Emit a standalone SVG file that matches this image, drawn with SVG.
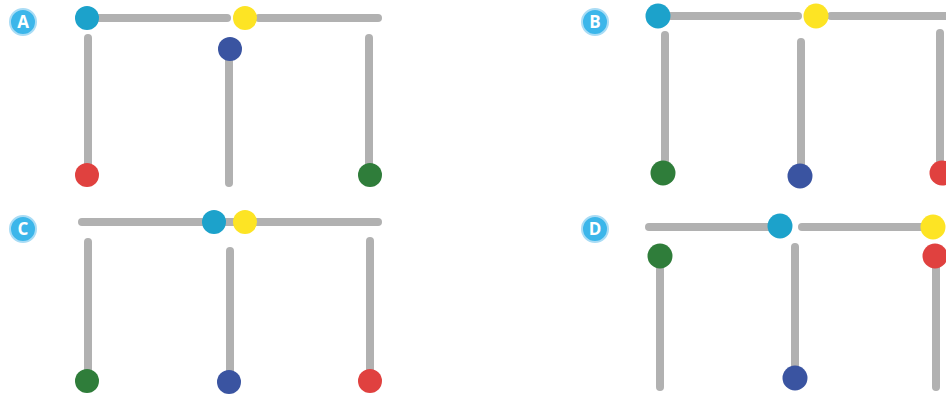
<svg xmlns="http://www.w3.org/2000/svg" width="946" height="399" viewBox="0 0 946 399">
<style>
.bar{stroke:#b1b1b1;stroke-width:8;stroke-linecap:round;fill:none}
.lbl circle{fill:#3cb6ea;stroke:#a9dcf5;stroke-width:2}
.lbl text{font-family:"Open Sans","Liberation Sans",sans-serif;font-weight:bold;font-size:17px;fill:#fff;text-anchor:middle}
.cy{fill:#1ca2cb}.ye{fill:#fde424}.bl{fill:#3a54a1}.rd{fill:#e0413f}.gr{fill:#2f7d3a}
</style>
<rect width="946" height="399" fill="#fff"/>
<g id="labels">
<g id="label-A" class="lbl"><circle cx="23" cy="22" r="13"/><text x="23" y="28">A</text></g>
<g id="label-B" class="lbl"><circle cx="595" cy="22" r="13"/><text x="595" y="28">B</text></g>
<g id="label-C" class="lbl"><circle cx="23" cy="229" r="13"/><text x="23" y="235">C</text></g>
<g id="label-D" class="lbl"><circle cx="595" cy="229" r="13"/><text x="595" y="235">D</text></g>
</g>
<g id="connectors">
<!-- A -->
<line class="bar" x1="87" y1="18" x2="227" y2="18"/>
<line class="bar" x1="259" y1="18" x2="378" y2="18"/>
<line class="bar" x1="88" y1="38" x2="88" y2="175"/>
<line class="bar" x1="229" y1="50" x2="229" y2="183"/>
<line class="bar" x1="369" y1="38" x2="369" y2="175"/>
<!-- B -->
<line class="bar" x1="658" y1="16" x2="798" y2="16"/>
<line class="bar" x1="831" y1="16" x2="950" y2="16"/>
<line class="bar" x1="665" y1="35" x2="665" y2="172"/>
<line class="bar" x1="801" y1="42" x2="801" y2="175"/>
<line class="bar" x1="940" y1="33" x2="940" y2="172"/>
<!-- C -->
<line class="bar" x1="82" y1="222" x2="378" y2="222"/>
<line class="bar" x1="88" y1="242" x2="88" y2="380"/>
<line class="bar" x1="230" y1="251" x2="230" y2="382"/>
<line class="bar" x1="370" y1="241" x2="370" y2="380"/>
<!-- D -->
<line class="bar" x1="649" y1="227" x2="780" y2="227"/>
<line class="bar" x1="802" y1="227" x2="933" y2="227"/>
<line class="bar" x1="660" y1="256" x2="660" y2="387"/>
<line class="bar" x1="795" y1="247" x2="795" y2="378"/>
<line class="bar" x1="936" y1="256" x2="936" y2="387"/>
</g>
<g id="panel-A">
<circle id="A-cyan" class="cy" cx="87" cy="18" r="12"/>
<circle id="A-yellow" class="ye" cx="245" cy="18" r="12"/>
<circle id="A-blue" class="bl" cx="230" cy="49" r="12"/>
<circle id="A-red" class="rd" cx="87" cy="175" r="12"/>
<circle id="A-green" class="gr" cx="370" cy="175" r="12"/>
</g>
<g id="panel-B">
<circle id="B-cyan" class="cy" cx="658" cy="16" r="12.5"/>
<circle id="B-yellow" class="ye" cx="816" cy="16" r="12.5"/>
<circle id="B-green" class="gr" cx="663" cy="173" r="12.5"/>
<circle id="B-blue" class="bl" cx="800" cy="176" r="12.5"/>
<circle id="B-red" class="rd" cx="942" cy="173" r="12.5"/>
</g>
<g id="panel-C">
<circle id="C-cyan" class="cy" cx="214" cy="222" r="12"/>
<circle id="C-yellow" class="ye" cx="245" cy="222" r="12"/>
<circle id="C-green" class="gr" cx="87" cy="381" r="12"/>
<circle id="C-blue" class="bl" cx="229" cy="382" r="12"/>
<circle id="C-red" class="rd" cx="370" cy="381" r="12"/>
</g>
<g id="panel-D">
<circle id="D-cyan" class="cy" cx="780" cy="226" r="12.5"/>
<circle id="D-yellow" class="ye" cx="933" cy="227" r="12.5"/>
<circle id="D-green" class="gr" cx="660" cy="256" r="12.5"/>
<circle id="D-red" class="rd" cx="935" cy="256" r="12.5"/>
<circle id="D-blue" class="bl" cx="795" cy="378" r="12.5"/>
</g>
</svg>
